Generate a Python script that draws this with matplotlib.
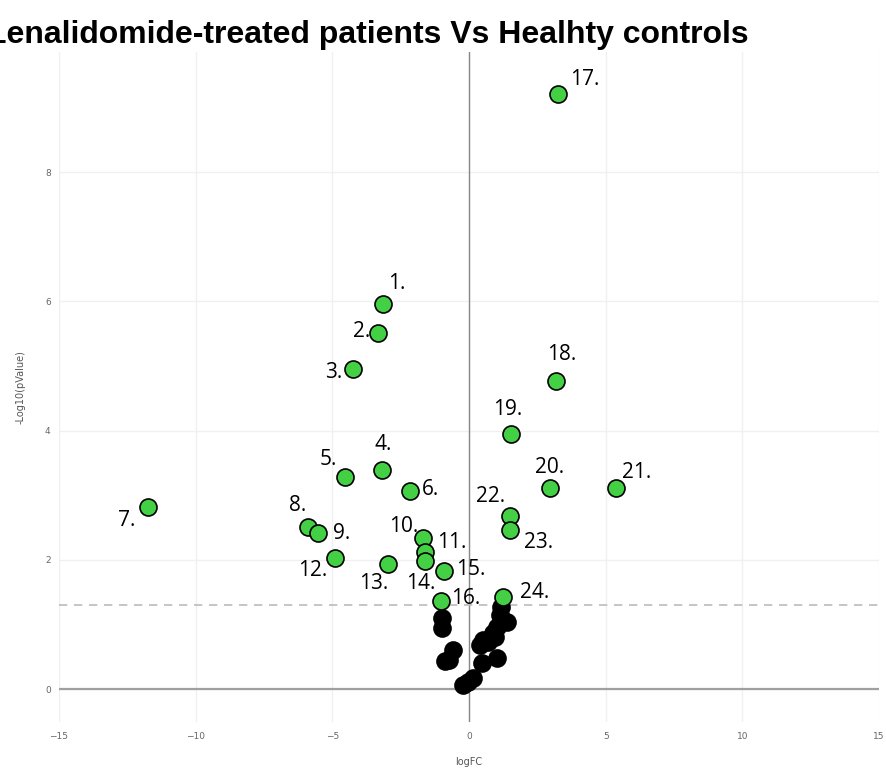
import matplotlib.pyplot as plt
import numpy as np

# significant genes (numbered)
sig_labels = ['1.', '2.', '3.', '4.', '5.', '6.', '7.', '8.', '9.', '10.', '11.', '12.',
              '13.', '14.', '15.', '16.', '17.', '18.', '19.', '20.', '21.', '22.', '23.', '24.']
sig_logfc = [-3.15, -3.33, -4.24, -3.18, -4.54, -2.16, -11.75, -5.89, -5.52, -1.68, -1.61, -4.90,
             -2.96, -1.60, -0.91, -1.02, 3.26, 3.18, 1.54, 2.96, 5.38, 1.50, 1.50, 1.24]
sig_pval = [5.96, 5.51, 4.95, 3.39, 3.28, 3.07, 2.82, 2.51, 2.41, 2.34, 2.12, 2.03,
            1.93, 1.98, 1.83, 1.36, 9.21, 4.77, 3.95, 3.11, 3.11, 2.68, 2.46, 1.42]

# non-significant genes
ns_logfc = [-0.99, -0.99, -0.59, -0.88, -0.73, 1.16, 1.13, 1.38, 1.01, 0.88, 0.95,
            0.51, 0.70, 0.40, 0.46, 1.01, 0.15, -0.04, -0.22]
ns_pval = [1.10, 0.94, 0.60, 0.43, 0.45, 1.27, 1.15, 1.04, 0.96, 0.87, 0.80,
           0.76, 0.73, 0.68, 0.40, 0.48, 0.17, 0.11, 0.06]

# label offsets in pixels (dx, dy)
label_offsets = [(14, 20), (-16, 2), (-19, -3), (1, 26), (-17, 18), (21, 1), (-21, -14),
                 (-10, 21), (24, 0), (-19, 11), (27, 10), (-22, -13), (-14, -19), (-5, -22),
                 (27, 1), (25, 3), (27, 14), (6, 26), (-3, 24), (0, 21), (21, 16), (-19, 19),
                 (29, -12), (32, 5)]

fig = plt.figure(figsize=(8.87, 7.74), dpi=100)
ax = fig.add_axes([59 / 887, 52 / 774, 820 / 887, 670 / 774])

ax.set_xlim(-15, 15)
ax.set_ylim(-0.51, 9.86)
ax.set_xticks([-15, -10, -5, 0, 5, 10, 15])
ax.set_yticks([0, 2, 4, 6, 8])
ax.grid(True, color='#f0f0f0', linewidth=1)
ax.set_axisbelow(True)
for s in ax.spines.values():
    s.set_visible(False)
ax.tick_params(length=0, labelsize=6.5, labelcolor='#666666', pad=7)
ax.tick_params(axis='y', pad=6)

ax.axhline(0, color='#a0a0a0', linewidth=1.6, zorder=1)
ax.axvline(0, color='#888888', linewidth=1, zorder=1)
ax.axhline(-np.log10(0.05), color='#bbbbbb', linewidth=1.2, linestyle=(0, (5, 4)), zorder=1)

ax.scatter(ns_logfc, ns_pval, s=150, color='black', edgecolor='black', linewidth=1.2, zorder=3)
ax.scatter(sig_logfc, sig_pval, s=150, color='#44d044', edgecolor='black', linewidth=1.2, zorder=4)

for lab, x, y, (dx, dy) in zip(sig_labels, sig_logfc, sig_pval, label_offsets):
    ax.annotate(lab, (x, y), xytext=(dx, dy), textcoords='offset pixels',
                ha='center', va='center', fontsize=15, family='Open Sans', zorder=5)

ax.set_xlabel('logFC', fontsize=7, color='#555555', labelpad=12)
ax.set_ylabel('-Log10(pValue)', fontsize=7, color='#555555', labelpad=14)

fig.text(368 / 887, 1 - 35 / 774, 'Lenalidomide-treated patients Vs Healhty controls',
         ha='center', va='center', fontsize=23, fontweight='bold', family='Liberation Sans')

plt.savefig('out.png', dpi=100)
